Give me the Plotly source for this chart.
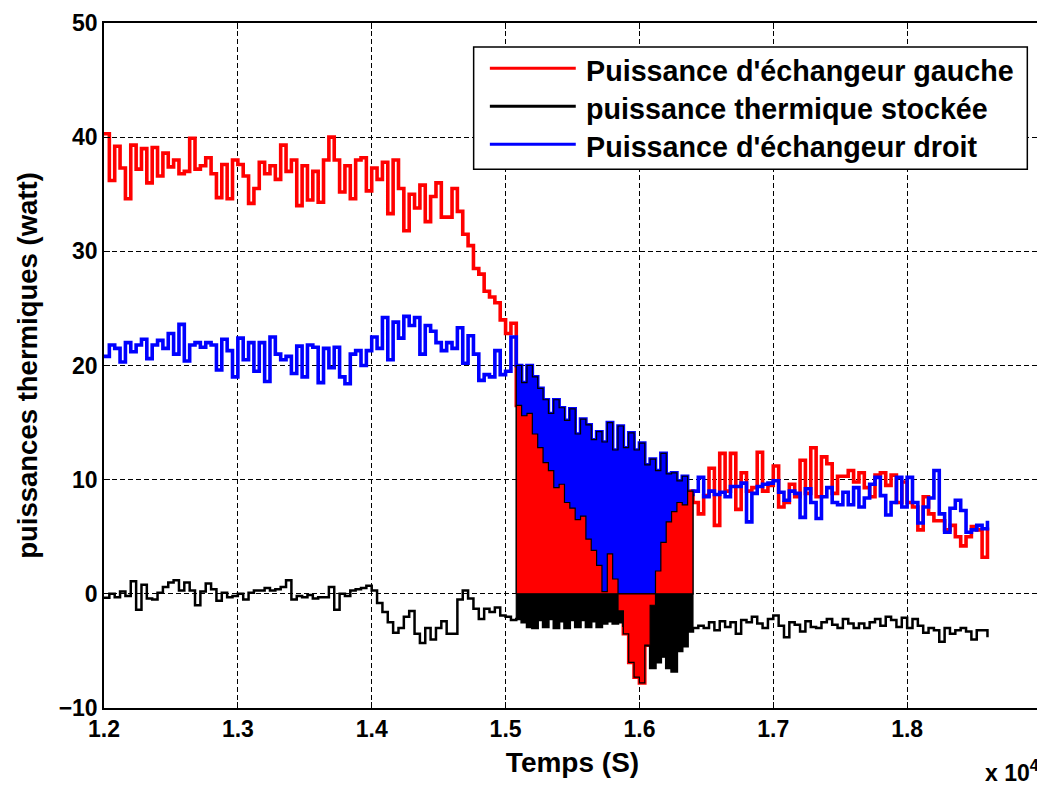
import plotly.graph_objects as go

# ---------------- data (time in seconds, displayed as x 10^4) ----------------
time_s = list(range(12000, 18601, 40))

p_gauche = [
    40.3, 36.2, 39.2, 37.3, 34.6, 39.3, 37.2, 39.0, 36.0, 39.1,
    36.6, 38.6, 37.4, 38.0, 36.8, 37.0, 39.9, 37.2, 37.5, 38.2,
    36.8, 34.7, 37.6, 34.6, 38.0, 37.6, 36.6, 34.2, 35.5, 37.8,
    36.8, 37.5, 36.3, 39.3, 37.0, 38.0, 34.0, 37.5, 34.5, 37.0,
    34.3, 38.0, 40.0, 38.0, 35.2, 37.5, 34.6, 38.0, 38.2, 35.3,
    37.3, 36.3, 37.8, 33.3, 38.0, 35.5, 31.8, 35.0, 33.8, 35.8,
    32.6, 34.8, 36.0, 33.0, 33.0, 35.5, 33.5, 31.5, 30.5, 28.5,
    28.0, 26.5, 26.0, 25.5, 24.0, 22.8, 23.7, 16.5, 15.6, 15.8,
    14.0, 12.8, 11.5, 10.8, 9.3, 9.6, 8.0, 7.5, 6.5, 6.8,
    4.8, 3.8, 2.5, 0.2, 3.5, 1.3, -1.5, -3.5, -6.0, -7.3,
    -7.8, -4.5, -1.0, 2.0, 4.5, 6.3, 7.2, 8.0, 7.8, 9.0,
    8.0, 7.0, 8.6, 11.0, 6.0, 12.3, 9.0, 12.3, 7.4, 10.6,
    9.0, 9.3, 12.4, 9.0, 9.5, 11.2, 7.6, 8.0, 9.6, 8.5,
    11.7, 8.8, 12.8, 8.5, 12.0, 11.4, 8.8, 10.3, 10.3, 10.8,
    9.8, 10.6, 9.3, 8.5, 10.4, 10.6, 9.5, 10.4, 8.0, 9.8,
    8.0, 7.6, 5.6, 8.5, 7.0, 6.4, 6.4, 5.6, 6.0, 5.0,
    4.2, 5.0, 5.9, 5.6, 3.2, 5.8,
]

p_stockee = [
    -0.35, 0.0, -0.3, 0.2, -0.2, 1.1, -1.4, 0.8, -0.4, -0.5,
    0.1, 0.6, 1.0, 1.2, 0.3, 1.0, 0.3, -1.0, 0.2, 0.9,
    0.4, -0.6, 0.1, -0.3, -0.2, 0.0, -0.5, 0.1, 0.3, 0.3,
    0.5, 0.3, 0.4, 0.6, 1.2, -0.5, -0.2, -0.3, -0.1, -0.4,
    -0.3, -0.3, 0.6, -1.4, 0.0, -0.2, 0.3, 0.4, 0.5, 0.7,
    0.3, -0.8, -1.6, -2.5, -3.4, -3.0, -2.0, -1.5, -3.5, -4.3,
    -3.0, -4.0, -3.0, -2.4, -3.5, -3.5, -0.5, 0.3, -0.4, -1.3,
    -2.2, -1.3, -1.6, -1.2, -1.9, -2.0, -2.3, -2.2, -2.5, -2.9,
    -3.0, -2.3, -2.9, -2.2, -3.0, -2.4, -3.0, -2.3, -2.9, -2.3,
    -2.9, -2.4, -2.9, -2.6, -2.4, -2.6, -2.5, -2.8, -3.0, -3.2,
    -3.5, -4.5, -6.5, -6.0, -5.5, -6.5, -6.8, -5.0, -4.6, -3.3,
    -3.0, -2.8, -3.0, -2.5, -3.2, -2.4, -2.9, -2.5, -3.5, -2.3,
    -2.5, -2.0, -2.6, -3.0, -2.2, -1.9, -2.8, -3.8, -2.5, -2.7,
    -3.3, -2.4, -2.9, -3.0, -2.5, -2.2, -2.7, -3.0, -2.2, -2.6,
    -3.0, -2.6, -3.0, -2.5, -2.2, -2.8, -2.0, -2.3, -2.9, -2.1,
    -3.0, -2.2, -2.8, -3.4, -3.0, -3.2, -4.2, -3.0, -3.5, -3.2,
    -3.0, -3.3, -4.0, -3.2, -3.2, -3.8,
]

p_droit = [
    20.8, 21.8, 21.5, 20.3, 22.0, 21.2, 21.8, 22.3, 20.6, 21.8,
    22.2, 21.5, 22.8, 21.0, 23.6, 20.4, 21.8, 22.0, 21.6, 22.0,
    21.8, 19.6, 22.3, 21.3, 19.0, 22.4, 20.5, 22.0, 19.5, 22.0,
    18.6, 22.5, 21.0, 20.5, 20.8, 19.3, 21.7, 19.0, 21.8, 21.6,
    18.5, 21.5, 19.8, 21.6, 19.0, 18.4, 21.0, 21.3, 20.0, 21.3,
    22.5, 21.5, 24.2, 20.5, 23.8, 22.4, 24.3, 23.5, 24.2, 21.0,
    23.5, 23.0, 22.0, 21.3, 22.0, 21.5, 23.3, 20.2, 22.6, 21.0,
    18.7, 19.2, 19.0, 21.3, 19.2, 19.5, 22.5, 20.0, 18.5, 20.0,
    19.0, 18.0, 17.0, 15.8, 17.0, 16.3, 15.2, 16.2, 14.0, 15.3,
    14.8, 13.5, 14.2, 13.3, 15.0, 12.6, 14.7, 12.8, 14.1, 12.6,
    13.2, 11.3, 11.8, 10.8, 12.3, 10.5, 10.6, 9.9, 10.3, 8.7,
    9.0, 10.2, 8.5, 9.0, 8.7, 8.9, 8.5, 9.4, 9.4, 9.7,
    6.3, 8.8, 9.4, 9.6, 9.7, 9.9, 8.9, 8.2, 9.0, 8.8,
    6.7, 9.2, 8.0, 6.6, 8.5, 9.3, 8.0, 7.8, 8.9, 7.8,
    9.3, 7.6, 8.4, 9.6, 10.2, 8.6, 6.9, 8.0, 10.2, 7.6,
    10.2, 8.0, 6.2, 7.6, 8.4, 10.8, 7.0, 5.4, 7.5, 8.2,
    7.3, 5.4, 5.6, 6.0, 5.7, 6.4,
]

series_names = ["Puissance d'échangeur gauche",
                "puissance thermique stockée",
                "Puissance d'échangeur droit"]
series_colors = ["#ff0000", "#000000", "#0000ff"]

x_tick_vals = [12000, 13000, 14000, 15000, 16000, 17000, 18000]
x_tick_text = ["1.2", "1.3", "1.4", "1.5", "1.6", "1.7", "1.8"]
y_tick_vals = [-10, 0, 10, 20, 30, 40, 50]

# indices of the shaded interval (start / end sample)
fill_start, fill_end = 77, 110

FONT = "Liberation Sans, Arial, sans-serif"

fig = go.Figure()

# thick lines first
for vals, col, w in [(p_gauche, series_colors[0], 3.6),
                     (p_stockee, series_colors[1], 2.5),
                     (p_droit, series_colors[2], 3.6)]:
    fig.add_trace(go.Scatter(x=time_s, y=vals, mode="lines",
                             line=dict(color=col, width=w, shape="hv"),
                             showlegend=False, hoverinfo="skip"))

# shaded areas with black edges (blue, black, red)
def area(vals, col):
    xs = [time_s[fill_start]] + time_s[fill_start:fill_end] + [time_s[fill_end], time_s[fill_start]]
    ys = [0] + vals[fill_start:fill_end] + [0, 0]
    fig.add_trace(go.Scatter(x=xs, y=ys, mode="lines", fill="toself",
                             fillcolor=col,
                             line=dict(color="black", width=1.2, shape="hv"),
                             showlegend=False, hoverinfo="skip"))

area(p_droit, series_colors[2])
area(p_stockee, series_colors[1])
area(p_gauche, series_colors[0])

axis_common = dict(showline=True, linecolor="black", linewidth=1.5, mirror="ticks",
                   ticks="inside", ticklen=6, tickcolor="black", tickwidth=1.2,
                   showgrid=True, gridcolor="black", gridwidth=1.1, griddash="5px,3px",
                   zeroline=False,
                   tickfont=dict(family=FONT, size=23, color="black", weight="bold"))

# the page adds an 8px body margin: the figure is sized to fill the rest
fig.update_layout(
    width=1037, height=781,
    margin=dict(l=96, r=2, t=15, b=81),
    paper_bgcolor="white", plot_bgcolor="white",
    showlegend=False,
    xaxis=dict(range=[12000, 19000], tickvals=x_tick_vals, ticktext=x_tick_text,
               title=dict(text="Temps (S)", standoff=11,
                          font=dict(family=FONT, size=28, color="black", weight="bold")),
               **axis_common),
    yaxis=dict(range=[-10, 50], tickvals=y_tick_vals,
               title=dict(text="puissances thermiques (watt)", standoff=13,
                          font=dict(family=FONT, size=27.5, color="black", weight="bold")),
               **axis_common),
)

# manual legend (MATLAB style)
fig.add_shape(type="rect", xref="paper", yref="paper",
              x0=0.3945, x1=0.9854, y0=0.7864, y1=0.965,
              line=dict(color="black", width=1.5), fillcolor="white", layer="above")
rows_y = [0.9339, 0.8784, 0.8229]
for name, col, yy in zip(series_names, series_colors, rows_y):
    fig.add_shape(type="line", xref="paper", yref="paper",
                  x0=0.4118, x1=0.5035, y0=yy, y1=yy,
                  line=dict(color=col, width=3), layer="above")
    fig.add_annotation(xref="paper", yref="paper", x=0.5128, y=yy - 0.004,
                       xanchor="left", yanchor="middle", showarrow=False,
                       text=name,
                       font=dict(family=FONT, size=28.7, color="black", weight="bold"))

fig.add_annotation(xref="paper", yref="paper", x=1.0, y=-0.117,
                   xanchor="right", yanchor="bottom", showarrow=False,
                   text="x 10<sup>4</sup>",
                   font=dict(family=FONT, size=23, color="black", weight="bold"))

fig.write_html("out.html")
